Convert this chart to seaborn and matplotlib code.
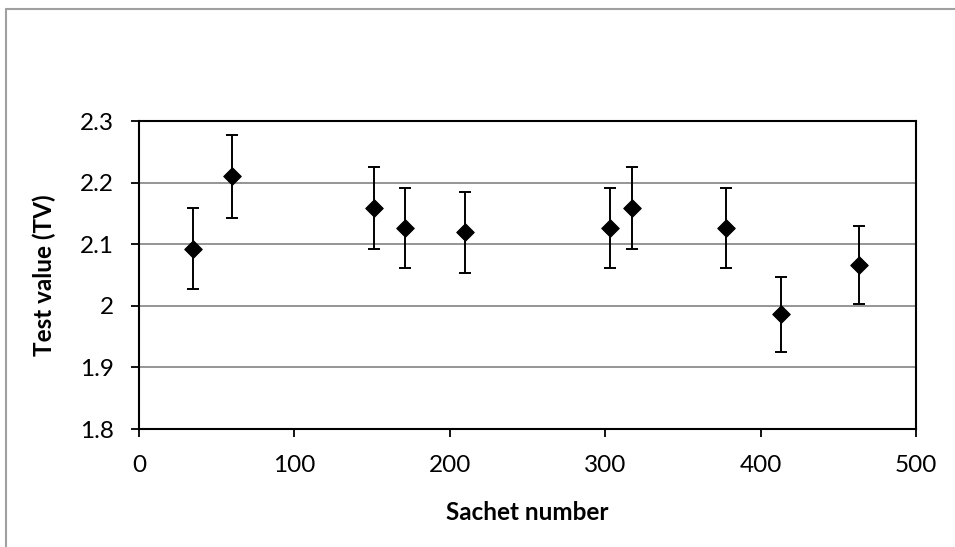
import matplotlib
matplotlib.use("Agg")
import matplotlib.pyplot as plt
import seaborn as sns
import pandas as pd
from matplotlib.lines import Line2D

sns.set_theme(style="white")
plt.rcParams['font.family'] = ['Lato', 'DejaVu Sans']

# Data
sachet = [35, 60, 151, 171, 210, 303, 317, 378, 413, 463]
test_value = [2.093, 2.210, 2.159, 2.126, 2.119, 2.126, 2.159, 2.126, 1.986, 2.066]
error = [0.065, 0.068, 0.066, 0.065, 0.066, 0.065, 0.066, 0.065, 0.061, 0.063]

df = pd.DataFrame({"sachet": sachet, "tv": test_value, "err": error})

fig = plt.figure(figsize=(9.55, 5.47), dpi=100)
ax = fig.add_axes([139 / 955, 1 - 429 / 547, (916 - 139) / 955, (429 - 121) / 547])

# outer chart-area frame (left and top edges visible)
fig.add_artist(Line2D([6 / 955, 6 / 955], [0, 1 - 9 / 547], transform=fig.transFigure,
                      color="#a0a0a0", lw=1.5))
fig.add_artist(Line2D([6 / 955, 1], [1 - 9 / 547, 1 - 9 / 547], transform=fig.transFigure,
                      color="#a0a0a0", lw=1.5))

ax.errorbar(df["sachet"], df["tv"], yerr=df["err"], fmt="none", ecolor="black",
            elinewidth=1.4, capsize=4.5, capthick=1.4, zorder=3)
sns.scatterplot(data=df, x="sachet", y="tv", marker="D", s=80, color="black",
                edgecolor="black", ax=ax, zorder=4)

ax.set_xlim(0, 500)
ax.set_ylim(1.8, 2.3)
ax.set_xticks([0, 100, 200, 300, 400, 500])
ax.set_yticks([1.8, 1.9, 2.0, 2.1, 2.2, 2.3])
ax.set_yticklabels(["1.8", "1.9", "2", "2.1", "2.2", "2.3"])
ax.yaxis.grid(True, color="#8c8c8c", lw=1.3)
ax.set_axisbelow(True)
for s in ax.spines.values():
    s.set_color("black")
    s.set_linewidth(1.5)
ax.tick_params(axis="both", direction="out", length=6, width=1.3, color="black",
               labelsize=17.5, labelcolor="black", left=True, bottom=True)
ax.tick_params(axis="x", pad=13)
ax.tick_params(axis="y", pad=12)

ax.set_xlabel("Sachet number", fontsize=17.5, fontweight="bold", labelpad=18, color="black")
ax.set_ylabel("Test value (TV)", fontsize=17.5, fontweight="bold", labelpad=17, color="black")

fig.savefig("out.png", dpi=100)
